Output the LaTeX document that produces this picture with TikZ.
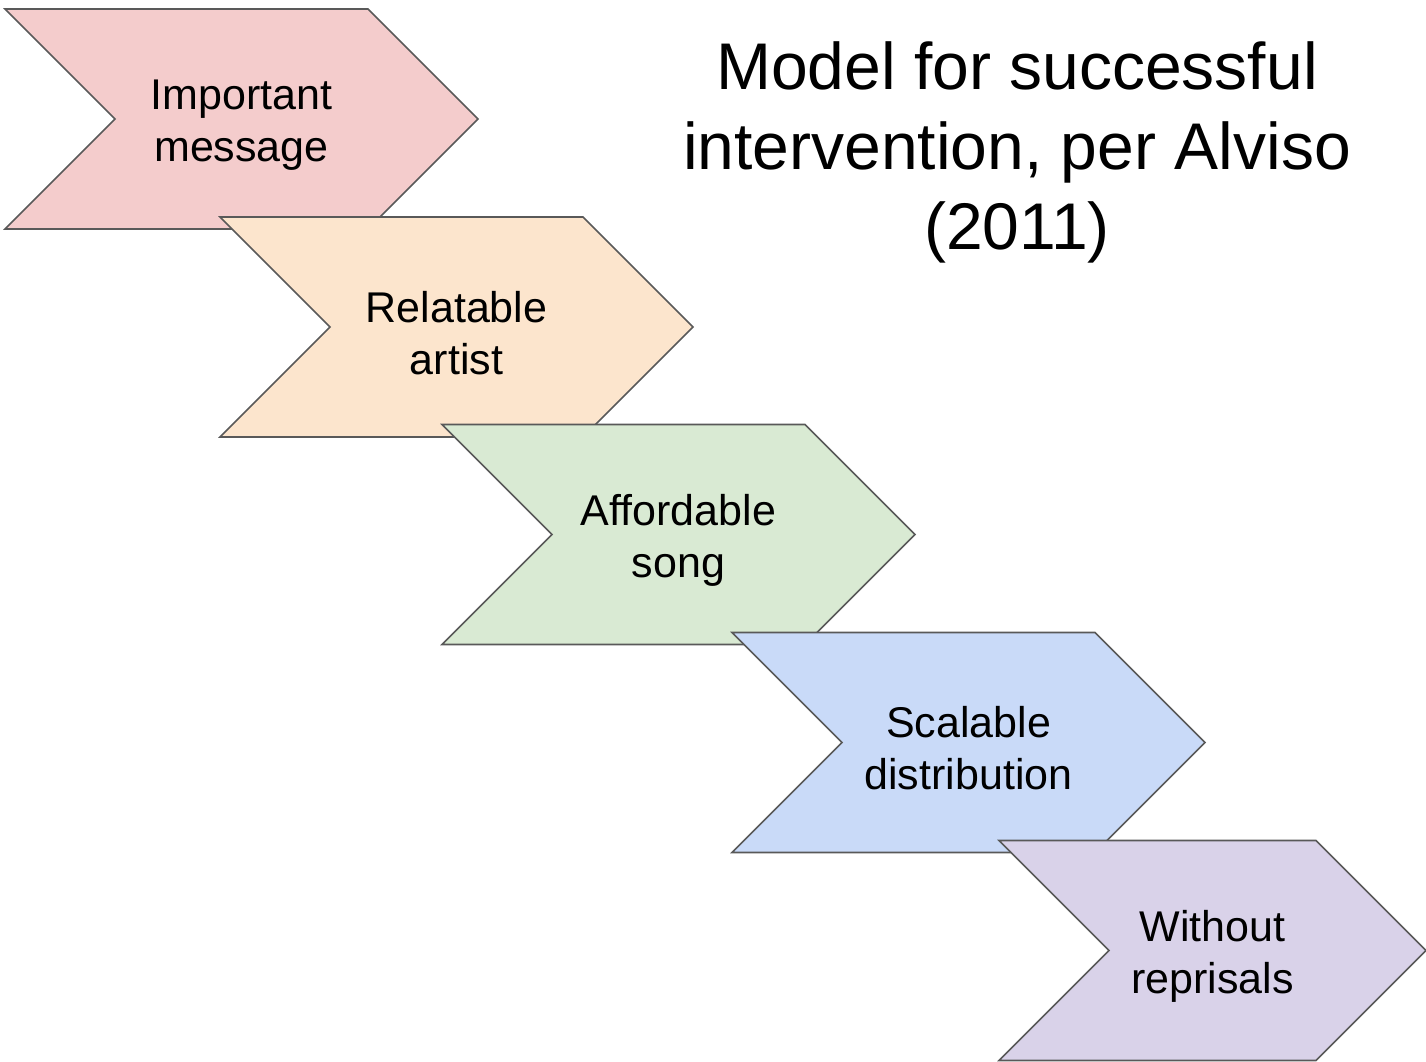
\documentclass[tikz,border=0pt]{standalone}
\usepackage{fontspec}
\setmainfont{Liberation Sans}
\usetikzlibrary{shapes.symbols}

\definecolor{chevline}{HTML}{595959}
\definecolor{pinkfill}{HTML}{F4CCCC}
\definecolor{peachfill}{HTML}{FCE5CD}
\definecolor{greenfill}{HTML}{D9EAD3}
\definecolor{bluefill}{HTML}{C9DAF8}
\definecolor{purplefill}{HTML}{D9D2E9}

\begin{document}
\begin{tikzpicture}
		[x=1pt, y=-1pt,
		chevron/.style={signal, signal from=west, signal to=east, signal pointer angle=90,
			draw=chevline, line width=1.6pt, minimum height=220pt, minimum width=473pt,
			inner sep=0pt},
		steptext/.style={align=center, yshift=-6pt, font=\fontsize{43}{52}\selectfont}]
		\useasboundingbox (0,0) rectangle (1426,1061);
		\node[chevron, fill=pinkfill, label={[steptext]center:{Important\\message}}] (message) at (241.5,119) {};
		\node[chevron, fill=peachfill, label={[steptext]center:{Relatable\\artist}}] (artist) at (456.5,327) {};
		\node[chevron, fill=greenfill, label={[steptext]center:{Affordable\\song}}] (song) at (678.5,534.5) {};
		\node[chevron, fill=bluefill, label={[steptext]center:{Scalable\\distribution}}] (distrib) at (968.5,742.5) {};
		\node[chevron, fill=purplefill, minimum width=427pt,
			label={[steptext]center:{Without\\reprisals}}] (reprisals) at (1212.5,950.5) {};

		\node[align=center, font=\fontsize{66}{80}\selectfont] (title) at (1017,152)
			{Model for successful\\intervention, per Alviso\\(2011)};
	\end{tikzpicture}
\end{document}
